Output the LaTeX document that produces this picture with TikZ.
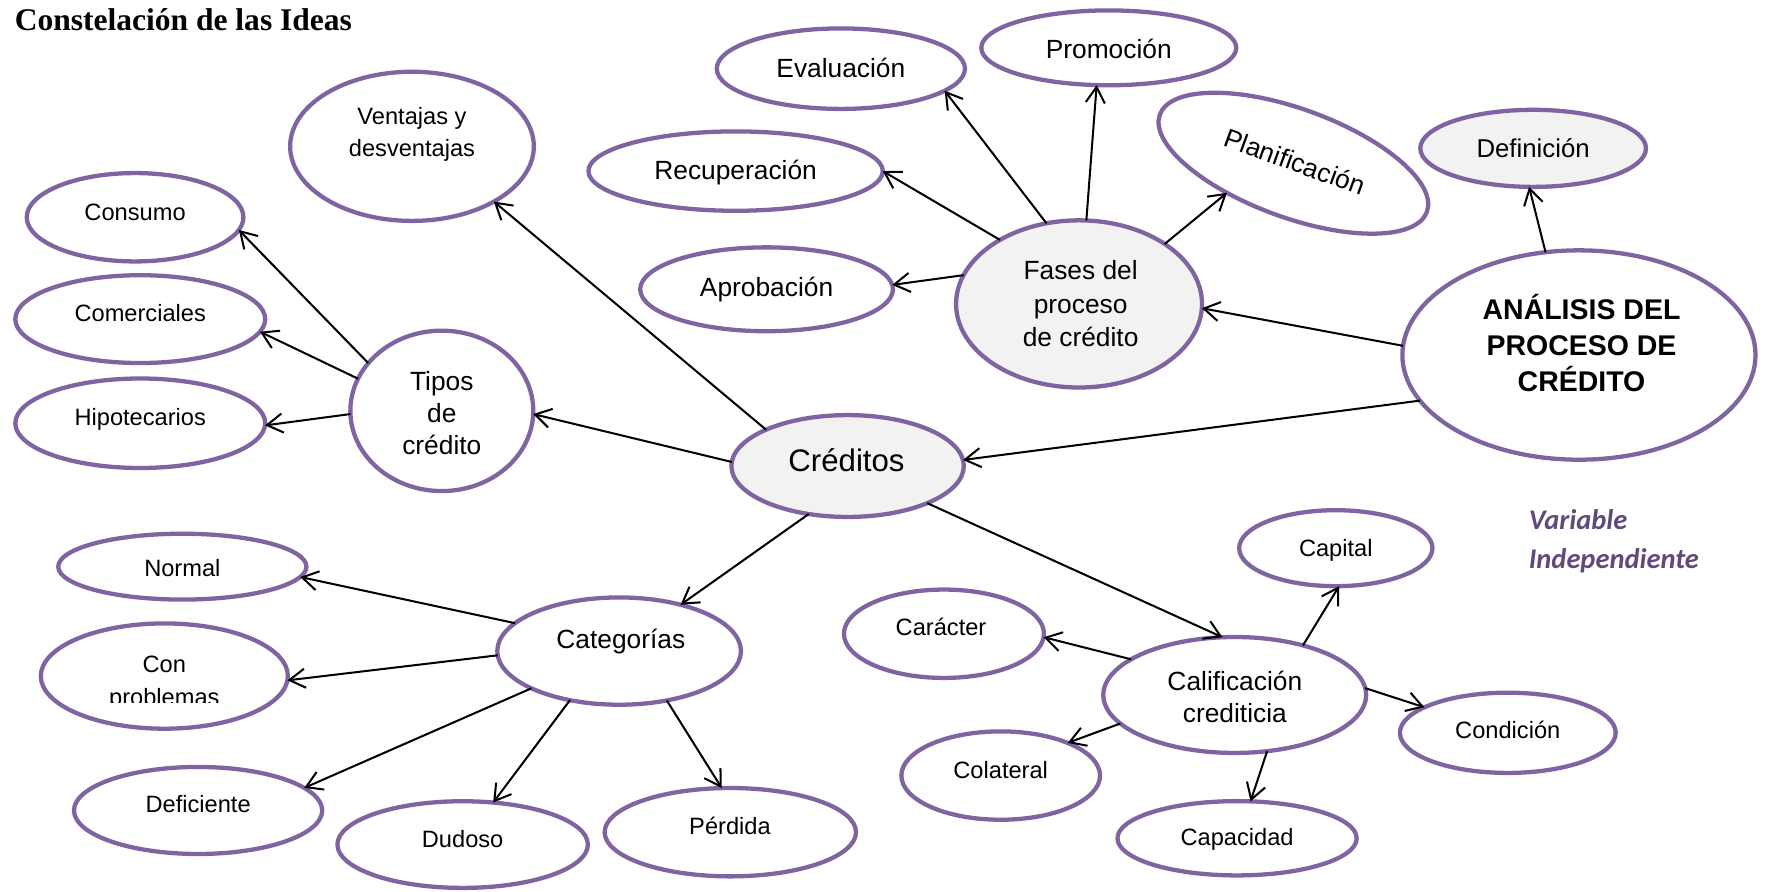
\documentclass[tikz,border=0pt]{standalone}
\usepackage{fontspec}
\setmainfont{Liberation Sans}
\newfontfamily\headserif{Liberation Serif}
\newfontfamily\notefont{Carlito}
\usetikzlibrary{shapes.geometric,arrows.meta}
\definecolor{bubline}{RGB}{128,100,162}
\definecolor{hubfill}{RGB}{242,242,242}
\definecolor{notecol}{RGB}{96,74,123}

\begin{document}
\begin{tikzpicture}[x=1pt,y=-1pt,
  bub/.style={ellipse, draw=bubline, line width=3.8pt, fill=white, inner sep=0pt, outer sep=0pt},
  hub/.style={bub, fill=hubfill},
  lbl/.style={inner sep=0pt, align=center, anchor=base, font=\fontsize{21}{28.5}\selectfont},
  lblm/.style={lbl, font=\fontsize{23.4}{29}\selectfont},
  arr/.style={draw=black, line width=1.8pt, -{Straight Barb[length=14pt,width=17pt]}},
]
\useasboundingbox (0,0) rectangle (1568,792);

% title
\node[anchor=base west, inner sep=0pt, font=\headserif\bfseries\fontsize{28}{32}\selectfont] (title) at (13,27.3) {Constelación de las Ideas};

% ellipses
\node[bub, minimum width=216.5, minimum height=132.5] (ventajas) at (366,130) {};
\node[bub, minimum width=192.5, minimum height=78.5] (consumo) at (120,193) {};
\node[bub, minimum width=222, minimum height=78] (comerciales) at (124.6,283.5) {};
\node[bub, minimum width=222, minimum height=79.5] (hipotecarios) at (124.6,376) {};
\node[bub, minimum width=162.5, minimum height=142.5] (tipos) at (392.5,365) {};
\node[hub, minimum width=206.5, minimum height=90.5] (creditos) at (753,414) {};
\node[bub, minimum width=220.5, minimum height=71.5] (evaluacion) at (747,61) {};
\node[bub, minimum width=226.5, minimum height=66.5] (promocion) at (985,42.5) {};
\node[bub, minimum width=261.5, minimum height=70.5] (recuperacion) at (653.5,152) {};
\node[bub, minimum width=224.5, minimum height=74.5] (aprobacion) at (681,257) {};
\node[hub, minimum width=218.5, minimum height=148.5] (fases) at (958.6,270) {};
\node[bub, minimum width=252.5, minimum height=96.5, rotate=-20] (planif) at (1149,145) {};
\node[hub, minimum width=200.5, minimum height=68.5] (definicion) at (1362,131.8) {};
\node[bub, minimum width=313.7, minimum height=186] (analisis) at (1402.7,315.4) {};
\node[bub, minimum width=220.5, minimum height=58.5] (normal) at (162,503.4) {};
\node[bub, minimum width=219.5, minimum height=93.5] (conprob) at (146,600.6) {};
\node[bub, minimum width=216.5, minimum height=95.3] (categorias) at (550,578.4) {};
\node[bub, minimum width=220.5, minimum height=77.3] (deficiente) at (176,720) {};
\node[bub, minimum width=222.5, minimum height=77] (dudoso) at (411,750.3) {};
\node[bub, minimum width=223.3, minimum height=78.5] (perdida) at (648.8,739.3) {};
\node[bub, minimum width=177.7, minimum height=78.5] (caracter) at (838.6,563) {};
\node[bub, minimum width=171.7, minimum height=67.5] (capital) at (1186.7,487) {};
\node[bub, minimum width=233.5, minimum height=103] (calif) at (1096.9,617.4) {};
\node[bub, minimum width=191.7, minimum height=71.3] (condicion) at (1339.5,651) {};
\node[bub, minimum width=176.5, minimum height=78.5] (colateral) at (889,689) {};
\node[bub, minimum width=212.5, minimum height=66] (capacidad) at (1099,744.7) {};

% labels (multi-line labels sit on the baseline of their last line)
\node[lbl, font=\fontsize{21}{28}\selectfont] (ventajas-t) at (366,139) {Ventajas y\\desventajas};
\node[lbl] (consumo-t) at (120,195.5) {Consumo};
\node[lbl] (comerciales-t) at (124.6,285.8) {Comerciales};
\node[lbl] (hipotecarios-t) at (124.6,378.4) {Hipotecarios};
\begin{scope}
  \clip (300,280) rectangle (480,404.5);
  \node[lblm, font=\fontsize{23.4}{28.5}\selectfont] (tipos-t) at (392.5,404) {Tipos\\de\\crédito};
\end{scope}
\node[lbl, font=\fontsize{27.7}{32}\selectfont] (creditos-t) at (752,419) {Créditos};
\node[lblm] (evaluacion-t) at (747,68.7) {Evaluación};
\node[lblm] (promocion-t) at (985,51.8) {Promoción};
\node[lblm] (recuperacion-t) at (653.5,159.3) {Recuperación};
\node[lblm] (aprobacion-t) at (681,263.5) {Aprobación};
\node[lblm, font=\fontsize{23.4}{29.4}\selectfont] (fases-t) at (960,307.5) {Fases del\\proceso\\de crédito};
\node[lblm, anchor=center, rotate=-20] (planif-t) at (1150.4,143.6) {Planificación};
\node[lbl, font=\fontsize{22.9}{28}\selectfont] (definicion-t) at (1362,139.8) {Definición};
\node[lbl, font=\bfseries\fontsize{25.3}{32}\selectfont] (analisis-t) at (1405,348) {ANÁLISIS DEL\\PROCESO DE\\CRÉDITO};
\node[lbl] (normal-t) at (162,512.3) {Normal};
\begin{scope}
  \clip (30,560) rectangle (262,624.2);
  \node[lbl, font=\fontsize{21}{29}\selectfont] (conprob-t) at (146,626.6) {Con\\problemas};
\end{scope}
\node[lblm] (categorias-t) at (551.5,576) {Categorías};
\node[lbl] (deficiente-t) at (176,722) {Deficiente};
\node[lbl] (dudoso-t) at (411,753) {Dudoso};
\node[lbl] (perdida-t) at (648.5,741) {Pérdida};
\node[lbl] (caracter-t) at (836,565) {Carácter};
\node[lbl] (capital-t) at (1186.7,494) {Capital};
\node[lblm] (calif-t) at (1097,642) {Calificación\\crediticia};
\node[lbl] (condicion-t) at (1339.5,656) {Condición};
\node[lbl] (colateral-t) at (889,691.4) {Colateral};
\node[lbl] (capacidad-t) at (1099,751.5) {Capacidad};

% side note
\node[anchor=base west, inner sep=0pt, align=left, text=notecol,
      font=\notefont\bfseries\itshape\fontsize{25.3}{34}\selectfont] (nota) at (1358,504.7) {Variable\\Independiente};

% connectors
\draw[arr] (tipos.147) -- (consumo.-7);
\draw[arr] (tipos.159) -- (comerciales.-6);
\draw[arr] (tipos.182) -- (hipotecarios.-1);
\draw[arr] (creditos.178) -- (tipos.-2);
\draw[arr] (creditos.156) -- (ventajas.-34);
\draw[arr] (creditos.231) -- (categorias.37);
\draw[arr] (creditos.-25) -- (calif.102);
\draw[arr] (analisis.196) -- (creditos.3);
\draw[arr] (analisis.177) -- (fases.-2);
\draw[arr] (analisis.108) -- (definicion.-96);
\draw[arr] (fases.166) -- (aprobacion.2);
\draw[arr] (fases.141) -- (recuperacion.0);
\draw[arr] (fases.112) -- (evaluacion.-12);
\draw[arr] (fases.85) -- (promocion.-108);
\draw[arr] (fases.35) -- (planif.224);
\draw[arr] (categorias.165) -- (normal.-5);
\draw[arr] (categorias.182) -- (conprob.-2);
\draw[arr] (categorias.203) -- (deficiente.12);
\draw[arr] (categorias.225) -- (dudoso.54);
\draw[arr] (categorias.-46) -- (perdida.101);
\draw[arr] (calif.161) -- (caracter.-2);
\draw[arr] (calif.36) -- (capital.-85);
\draw[arr] (calif.3) -- (condicion.163);
\draw[arr] (calif.194) -- (colateral.26);
\draw[arr] (calif.-60) -- (capacidad.70);
\end{tikzpicture}
\end{document}
